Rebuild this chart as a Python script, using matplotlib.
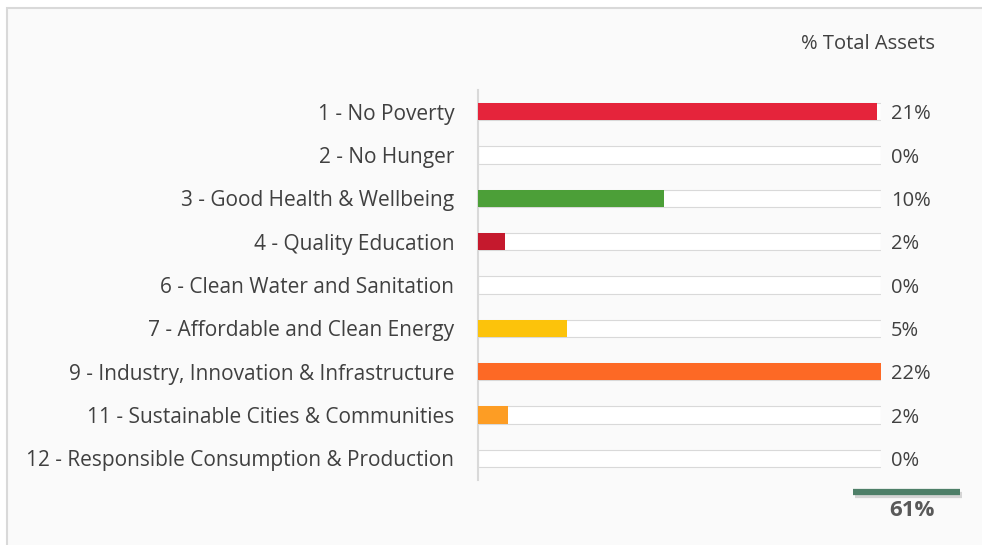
import matplotlib
matplotlib.use("Agg")
import matplotlib.pyplot as plt
from matplotlib.patches import Rectangle
from matplotlib.lines import Line2D

plt.rcParams['font.family'] = ['Open Sans', 'DejaVu Sans']

categories = [
    "1 - No Poverty",
    "2 - No Hunger",
    "3 - Good Health & Wellbeing",
    "4 - Quality Education",
    "6 - Clean Water and Sanitation",
    "7 - Affordable and Clean Energy",
    "9 - Industry, Innovation & Infrastructure",
    "11 - Sustainable Cities & Communities",
    "12 - Responsible Consumption & Production",
]
values = [21.5, 0.0, 10.0, 1.45, 0.0, 4.8, 21.7, 1.6, 0.0]
value_labels = ["21%", "0%", "10%", "2%", "0%", "5%", "22%", "2%", "0%"]
colors = ["#E5243B", "#FFFFFF", "#4C9F38", "#C5192D", "#FFFFFF",
          "#FCC30B", "#FD6925", "#FD9D24", "#FFFFFF"]
total_label = "61%"
scale_max = 21.7

text_col = "#404040"
fs = 14.5

fig = plt.figure(figsize=(9.82, 5.45), dpi=100)
fig.patch.set_facecolor("white")
# panel background
fig.patches.append(Rectangle((7 / 982, -0.2), 1.3, (545 - 8) / 545 + 0.2,
                             transform=fig.transFigure, facecolor="#FAFAFA",
                             edgecolor="#D9D9D9", linewidth=1.5, zorder=-5))

ax = fig.add_axes([478 / 982, (545 - 480) / 545, 403 / 982, 390 / 545])
ax.set_facecolor("none")

y = list(range(len(categories)))
h = 0.4
ax.barh(y, [scale_max] * len(y), height=h, color="white",
        edgecolor="#D9D9D9", linewidth=0.8, zorder=2)
ax.barh(y, values, height=h, color=colors, linewidth=0, zorder=3)

for yi, lab in zip(y, value_labels):
    ax.annotate(lab, (scale_max, yi), xytext=(7, -2), textcoords="offset points",
                ha="left", va="center", fontsize=fs, color=text_col)

ax.set_xlim(0, scale_max)
ax.set_ylim(len(y) - 0.5, -0.5)
ax.set_yticks(y)
ax.set_yticklabels(categories, fontsize=15, color=text_col)
ax.tick_params(axis="y", length=0, pad=17)
ax.set_xticks([])
for s in ["top", "right", "bottom"]:
    ax.spines[s].set_visible(False)
ax.spines["left"].set_color("#D9D9D9")
ax.spines["left"].set_linewidth(1.5)

fig.text(868 / 982, (545 - 44) / 545, "% Total Assets", ha="center",
         va="center", fontsize=fs, color=text_col)

# total marker
fig.add_artist(Line2D([855 / 982, 962 / 982], [(545 - 495) / 545] * 2,
                      transform=fig.transFigure, color="#BBBBBB",
                      linewidth=4.5, alpha=0.6, solid_capstyle="butt"))
fig.add_artist(Line2D([853 / 982, 960 / 982], [(545 - 492) / 545] * 2,
                      transform=fig.transFigure, color="#4E7F68",
                      linewidth=4.5, solid_capstyle="butt"))
fig.text(912 / 982, (545 - 510) / 545, total_label, ha="center", va="center",
         fontsize=16, fontweight="bold", color="#595959")

fig.savefig("out.png", dpi=100)
